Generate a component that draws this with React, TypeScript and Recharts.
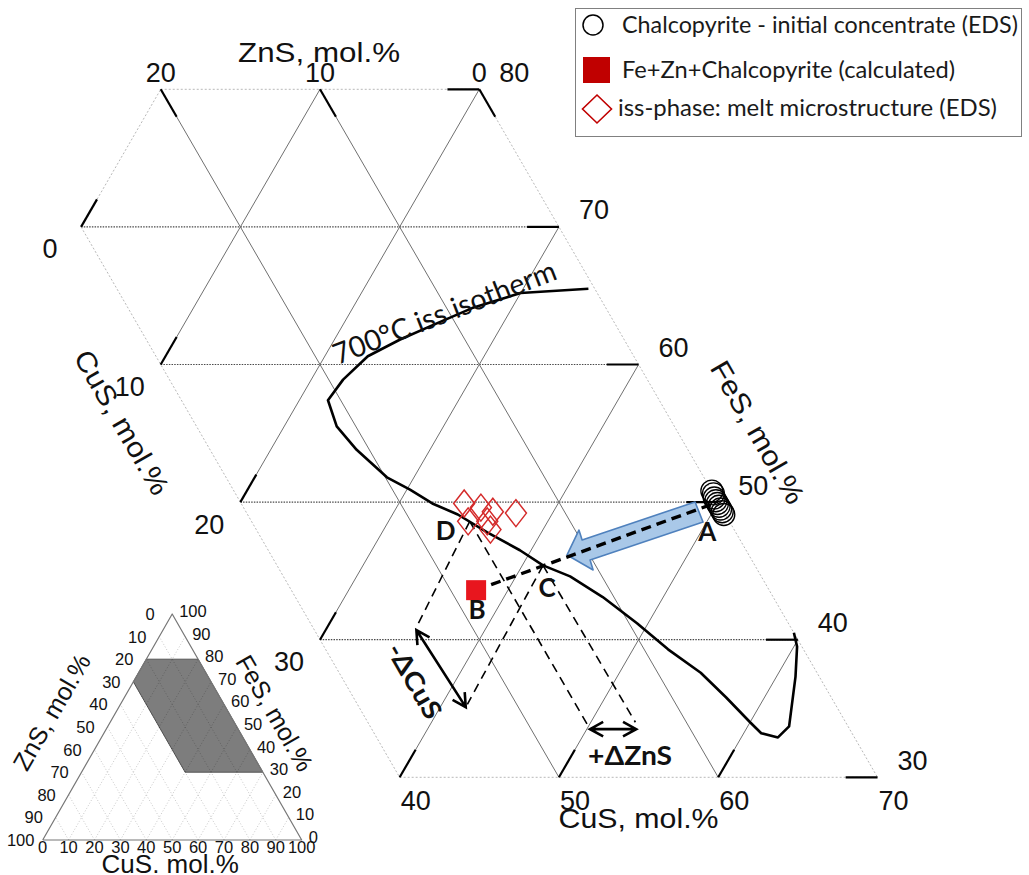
import React from 'react';
import { ScatterChart, Scatter, XAxis, YAxis } from 'recharts';

// every composition is [CuS, FeS] in mol.%, ZnS = 100 - CuS - FeS
type Comp = [number, number];

// section of the CuS-FeS-ZnS triangle that is drawn
const FE_MAX = 80;
const FE_MIN = 30;
const ZN_MAX = 30;

const znsTicks = [20, 10, 0];
const fesTicks = [80, 70, 60, 50, 40, 30];
const cusTicks = [0, 10, 20, 30, 40, 50, 60, 70];
const TICK = 2;

// 700 C iss isotherm
const isotherm: Comp[] = [
  [34.1, 65.5], [30.0, 65.2], [27.5, 64.1], [25.7, 62.9], [24.1, 61.8], [22.7, 60.6],
  [22.0, 58.9], [21.8, 57.4], [23.3, 55.5], [25.4, 53.8], [28.3, 51.8], [30.2, 50.9],
  [32.1, 49.9], [34.1, 49.1], [36.6, 47.8], [39.3, 46.5], [41.3, 45.4], [43.4, 44.6],
  [46.2, 43.1], [49.3, 41.2], [52.2, 39.3], [55.1, 37.6], [57.6, 35.8], [60.0, 34.0],
  [61.1, 33.2], [62.3, 32.9], [62.6, 33.7], [61.2, 37.3], [60.2, 39.5], [59.5, 40.5],
];

const chalcopyrite: Comp[] = [
  [49.2, 50.8], [49.4, 50.6], [49.6, 50.3], [49.8, 50.1], [50.0, 49.9],
  [50.2, 49.7], [50.4, 49.5], [50.6, 49.3], [50.8, 49.1],
];

const issPhase: Comp[] = [
  [34.1, 49.9], [35.3, 49.6], [36.2, 49.3], [37.7, 49.2], [35.0, 48.6], [36.2, 48.6], [36.7, 48.0],
];

const calculated: Comp[] = [[38.0, 43.6]];

const pointA: Comp = [49.6, 49.8];
const pointB: Comp = [38.0, 43.6];
const pointC: Comp = [41.3, 45.4];
const pointD: Comp = [35.1, 48.6];

const construction: [Comp, Comp][] = [
  [pointD, [35.6, 40.9]],
  [pointC, [41.6, 35.3]],
  [pointD, [50.0, 33.7]],
  [pointC, [52.8, 34.0]],
];
const deltaCuS: Comp[] = [[35.7, 40.7], [41.6, 35.1]];
const deltaZnS: Comp[] = [[50.2, 33.5], [53.1, 33.5]];

const blueArrow: Comp[] = [
  [48.54, 50.01], [42.83, 47.25], [42.27, 47.97], [42.43, 46.16],
  [44.61, 45.07], [44.06, 45.79], [49.77, 48.55],
];

// inset: whole triangle with the section shaded
const insetTicks = [0, 10, 20, 30, 40, 50, 60, 70, 80, 90, 100];
const insetGrid = [10, 20, 30, 40, 50, 60, 70, 80, 90];
const insetTriangle: Comp[] = [[0, 0], [100, 0], [0, 100], [0, 0]];
const shadedSection: Comp[] = [[0, 80], [20, 80], [70, 30], [40, 30], [0, 70]];

const xy = (c: Comp) => ({ x: c[0] + c[1] / 2, y: c[1] });

const ARIAL = 'Liberation Sans, Arial, sans-serif';
const CALIBRI = 'Lato, Open Sans, sans-serif';

// ---------- main grid ----------
type Seg = { a: Comp; b: Comp; kind: 'edge' | 'horiz' | 'diag' };

function mainGrid(): Seg[] {
  const segs: Seg[] = [];
  fesTicks.forEach(f => {
    const znHi = Math.min(ZN_MAX, 100 - f);
    const edge = f === FE_MAX || f === FE_MIN;
    segs.push({ a: [100 - f - znHi, f], b: [100 - f, f], kind: edge ? 'edge' : 'horiz' });
  });
  [...znsTicks, ZN_MAX].forEach(z => {
    const feHi = Math.min(FE_MAX, 100 - z);
    const edge = z === 0 || z === ZN_MAX;
    segs.push({ a: [100 - z - feHi, feHi], b: [100 - z - FE_MIN, FE_MIN], kind: edge ? 'edge' : 'diag' });
  });
  cusTicks.forEach(c => {
    const lo = Math.max(0, 100 - c - FE_MAX);
    const hi = Math.min(ZN_MAX, 100 - c - FE_MIN);
    if (hi <= lo) return;
    segs.push({ a: [c, 100 - c - hi], b: [c, 100 - c - lo], kind: c === 0 ? 'edge' : 'diag' });
  });
  return segs;
}

function mainTicks(): [Comp, Comp][] {
  const t: [Comp, Comp][] = [];
  znsTicks.forEach(z => t.push([[100 - FE_MAX - z, FE_MAX], [100 - FE_MAX + TICK - z, FE_MAX - TICK]]));
  fesTicks.forEach(f => t.push([[100 - f, f], [100 - f - TICK, f]]));
  cusTicks.forEach(c => {
    const zn = Math.min(ZN_MAX, 100 - c - FE_MIN);
    if (zn < TICK) return;
    t.push([[c, 100 - c - zn], [c, 100 - c - zn + TICK]]);
  });
  return t;
}

// ---------- render helpers ----------
const none = () => <g />;

const pathLine = (stroke: string, width: number, dash?: string, close = false, fill = 'none') => (p: any) => {
  const pts = p.points || [];
  if (pts.length < 2) return <g />;
  const d = pts.map((q: any, i: number) => `${i ? 'L' : 'M'}${q.x},${q.y}`).join(' ') + (close ? ' Z' : '');
  return (
    <path d={d} fill={fill} stroke={stroke} strokeWidth={width} strokeDasharray={dash}
      strokeLinejoin="round" />
  );
};

const doubleArrow = (p: any) => {
  const [a, b] = p.points;
  const ang = Math.atan2(b.y - a.y, b.x - a.x);
  const L = 15;
  const s = 0.5;
  const hb = (k: number) => `${b.x - L * Math.cos(ang + k)},${b.y - L * Math.sin(ang + k)}`;
  const ha = (k: number) => `${a.x + L * Math.cos(ang + k)},${a.y + L * Math.sin(ang + k)}`;
  const d = `M${a.x},${a.y} L${b.x},${b.y} M${hb(s)} L${b.x},${b.y} L${hb(-s)} M${ha(s)} L${a.x},${a.y} L${ha(-s)}`;
  return <path d={d} fill="none" stroke="#000" strokeWidth={2.6} strokeLinejoin="miter" />;
};

type TextOpts = {
  dx?: number; dy?: number; size: number; family: string; weight?: string;
  anchor?: 'start' | 'middle' | 'end'; rotate?: number; len?: number; central?: boolean; fill?: string;
};

const txt = (o: TextOpts) => (p: any) => {
  const x = p.cx + (o.dx ?? 0);
  const y = p.cy + (o.dy ?? 0);
  return (
    <text x={x} y={y} fontFamily={o.family} fontSize={o.size} fontWeight={o.weight ?? 'normal'}
      textAnchor={o.anchor ?? 'middle'} dominantBaseline={o.central ? 'central' : undefined}
      fill={o.fill ?? '#111'} transform={o.rotate ? `rotate(${o.rotate} ${x} ${y})` : undefined}
      textLength={o.len} lengthAdjust={o.len ? 'spacingAndGlyphs' : undefined}>
      {p.payload.text}
    </text>
  );
};

const label = (c: Comp, text: string) => ({ ...xy(c), text });

const circleShape = (p: any) => <circle cx={p.cx} cy={p.cy} r={11} fill="none" stroke="#000" strokeWidth={1.3} />;
const diamondShape = (p: any) => (
  <polygon points={`${p.cx},${p.cy - 13.5} ${p.cx + 10.5},${p.cy} ${p.cx},${p.cy + 13.5} ${p.cx - 10.5},${p.cy}`}
    fill="none" stroke="#d42a2a" strokeWidth={1.5} />
);
const squareShape = (p: any) => <rect x={p.cx - 10} y={p.cy - 10} width={20} height={20} fill="#e8161e" />;

const gridStyle = {
  edge: pathLine('#b8b8b8', 1, '2 2'),
  horiz: pathLine('#4a4a4a', 1.2, '1.5 1.2'),
  diag: pathLine('#707070', 1),
};

const keyOffsets: Record<string, [number, number]> = { A: [-3, 36], B: [1, 29], C: [4, 32], D: [-24, 19] };

function Inset() {
  const grid: [Comp, Comp][] = [];
  insetGrid.forEach(v => {
    grid.push([[v, 0], [v, 100 - v]]);
    grid.push([[100 - v, 0], [0, 100 - v]]);
  });
  return (
    <ScatterChart width={330} height={285} margin={{ top: 0, right: 0, bottom: 0, left: 0 }}>
      <XAxis type="number" dataKey="x" domain={[-16.49, 110.93]} hide allowDataOverflow />
      <YAxis type="number" dataKey="y" domain={[-15.49, 110.62]} hide allowDataOverflow />
      <Scatter data={shadedSection.map(xy)} shape={none} line={pathLine('#555', 1, undefined, true, '#7d7d7d')} isAnimationActive={false} />
      {grid.map((s, i) => (
        <Scatter key={`ig${i}`} data={s.map(xy)} shape={none} line={pathLine('rgba(0,0,0,0.22)', 1, '1 2')} isAnimationActive={false} />
      ))}
      <Scatter data={insetTriangle.map(xy)} shape={none} line={pathLine('#777', 1.2)} isAnimationActive={false} />
      <Scatter data={insetTicks.map(z => label([0, 100 - z], String(z)))} shape={txt({ dx: -22, dy: 6, size: 16.5, family: ARIAL })} isAnimationActive={false} />
      <Scatter data={insetTicks.map(f => label([100 - f, f], String(f)))} shape={txt({ dx: 7, dy: 3, size: 16.5, family: ARIAL, anchor: 'start' })} isAnimationActive={false} />
      <Scatter data={insetTicks.map(c => label([c, 0], String(c)))} shape={txt({ dy: 13, size: 16.5, family: ARIAL })} isAnimationActive={false} />
      <Scatter data={[label([0, 50], 'ZnS, mol.%')]} shape={txt({ dx: -56, dy: -15, size: 25, family: ARIAL, rotate: -60, central: true })} isAnimationActive={false} />
      <Scatter data={[label([50, 50], 'FeS, mol.%')]} shape={txt({ dx: 38, dy: -14, size: 25, family: ARIAL, rotate: 60, central: true })} isAnimationActive={false} />
      <Scatter data={[label([50, 0], 'CuS. mol.%')]} shape={txt({ dx: -2, dy: 33, size: 26, family: ARIAL })} isAnimationActive={false} />
    </ScatterChart>
  );
}

function LegendBox() {
  return (
    <svg width={448} height={130} style={{ position: 'absolute', left: 575, top: 8 }}>
      <rect x={0.5} y={0.5} width={446} height={128} fill="#fff" stroke="#808080" />
      <circle cx={18} cy={17} r={10} fill="none" stroke="#000" strokeWidth={1.5} />
      <rect x={8} y={49} width={27} height={26} fill="#c00000" />
      <polygon points="22,87 36.5,101 22,115 7.5,101" fill="none" stroke="#c00000" strokeWidth={1.6} />
      <text x={47} y={25} fontFamily={CALIBRI} fontSize={24} fill="#1a1a1a" textLength={396} lengthAdjust="spacingAndGlyphs">
        Chalcopyrite - initial concentrate (EDS)
      </text>
      <text x={47} y={70} fontFamily={CALIBRI} fontSize={24} fill="#1a1a1a" textLength={333} lengthAdjust="spacingAndGlyphs">
        Fe+Zn+Chalcopyrite (calculated)
      </text>
      <text x={43} y={108} fontFamily={CALIBRI} fontSize={24} fill="#1a1a1a" textLength={379} lengthAdjust="spacingAndGlyphs">
        iss-phase: melt microstructure (EDS)
      </text>
    </svg>
  );
}

export default function App() {
  const grid = mainGrid();
  const ticks = mainTicks();
  const num = { size: 27, family: ARIAL };
  return (
    <div style={{ position: 'absolute', left: 0, top: 0, width: 1029, height: 875, background: '#fff', overflow: 'hidden' }}>
      <ScatterChart width={1029} height={875} margin={{ top: 0, right: 0, bottom: 0, left: 0 }}>
        <XAxis type="number" dataKey="x" domain={[29.91, 94.51]} hide allowDataOverflow />
        <YAxis type="number" dataKey="y" domain={[22.9, 86.49]} hide allowDataOverflow />

        {grid.map((s, i) => (
          <Scatter key={`g${i}`} data={[xy(s.a), xy(s.b)]} shape={none} line={gridStyle[s.kind]} isAnimationActive={false} />
        ))}
        {ticks.map((s, i) => (
          <Scatter key={`t${i}`} data={s.map(xy)} shape={none} line={pathLine('#000', 2.2)} isAnimationActive={false} />
        ))}

        {/* tick labels */}
        <Scatter data={znsTicks.map(z => label([100 - FE_MAX - z, FE_MAX], String(z)))} shape={txt({ ...num, dy: -7 })} isAnimationActive={false} />
        <Scatter data={fesTicks.map(f => label([100 - f, f], String(f)))} shape={txt({ ...num, dx: 35, dy: -7.5 })} isAnimationActive={false} />
        <Scatter data={cusTicks.filter(c => c < 40).map(c => label([c, 100 - ZN_MAX - c], String(c)))} shape={txt({ ...num, dx: -31, dy: 31.5 })} isAnimationActive={false} />
        <Scatter data={cusTicks.filter(c => c >= 40).map(c => label([c, FE_MIN], String(c)))} shape={txt({ ...num, dx: 16, dy: 32.5 })} isAnimationActive={false} />

        {/* axis titles */}
        <Scatter data={[label([10, FE_MAX], 'ZnS, mol.%')]} shape={txt({ size: 28, family: ARIAL, dx: -1, dy: -27, len: 162 })} isAnimationActive={false} />
        <Scatter data={[label([55, FE_MIN], 'CuS, mol.%')]} shape={txt({ size: 28, family: ARIAL, dy: 51, len: 160 })} isAnimationActive={false} />
        <Scatter data={[label([10, 60], 'CuS, mol.%')]} shape={txt({ size: 28, family: ARIAL, dx: -39, dy: 58, rotate: 60, central: true, len: 162 })} isAnimationActive={false} />
        <Scatter data={[label([45, 55], 'FeS, mol.%')]} shape={txt({ size: 28, family: ARIAL, dx: 79, dy: -1, rotate: 60, central: true, len: 160 })} isAnimationActive={false} />

        {/* isotherm */}
        <Scatter data={isotherm.map(xy)} shape={none} line={pathLine('#000', 2.6)} isAnimationActive={false} />
        <Scatter data={[label([26.5, 63.1], '700°C iss isotherm')]} shape={txt({ size: 29, family: CALIBRI, rotate: -21.3, len: 237 })} isAnimationActive={false} />

        {/* construction */}
        {construction.map((s, i) => (
          <Scatter key={`c${i}`} data={s.map(xy)} shape={none} line={pathLine('#000', 1.6, '9 6')} isAnimationActive={false} />
        ))}
        <Scatter data={deltaCuS.map(xy)} shape={none} line={doubleArrow} isAnimationActive={false} />
        <Scatter data={deltaZnS.map(xy)} shape={none} line={doubleArrow} isAnimationActive={false} />
        <Scatter data={[label([38.65, 37.9], '-ΔCuS')]} shape={txt({ size: 26, family: CALIBRI, weight: 'bold', dx: -26, dy: 12, rotate: 60, central: true, len: 83 })} isAnimationActive={false} />
        <Scatter data={[label([51.65, 33.5], '+ΔZnS')]} shape={txt({ size: 26, family: CALIBRI, weight: 'bold', dx: 17, dy: 36, len: 84 })} isAnimationActive={false} />

        <Scatter data={blueArrow.map(xy)} shape={none} line={pathLine('#4f81bd', 1.6, undefined, true, '#a9c8e8')} isAnimationActive={false} />
        <Scatter data={[pointB, pointA].map(xy)} shape={none} line={pathLine('#000', 3.4, '10 6')} isAnimationActive={false} />

        {/* measured / calculated compositions */}
        <Scatter data={chalcopyrite.map(xy)} shape={circleShape} isAnimationActive={false} />
        <Scatter data={issPhase.map(xy)} shape={diamondShape} isAnimationActive={false} />
        <Scatter data={calculated.map(xy)} shape={squareShape} isAnimationActive={false} />

        {([['A', pointA], ['B', pointB], ['C', pointC], ['D', pointD]] as [string, Comp][]).map(([n, c]) => (
          <Scatter key={n} data={[label(c, n)]}
            shape={txt({ size: 26, family: CALIBRI, weight: 'bold', dx: keyOffsets[n][0], dy: keyOffsets[n][1] })}
            isAnimationActive={false} />
        ))}
      </ScatterChart>
      <div style={{ position: 'absolute', left: 0, top: 590 }}>
        <Inset />
      </div>
      <LegendBox />
    </div>
  );
}
